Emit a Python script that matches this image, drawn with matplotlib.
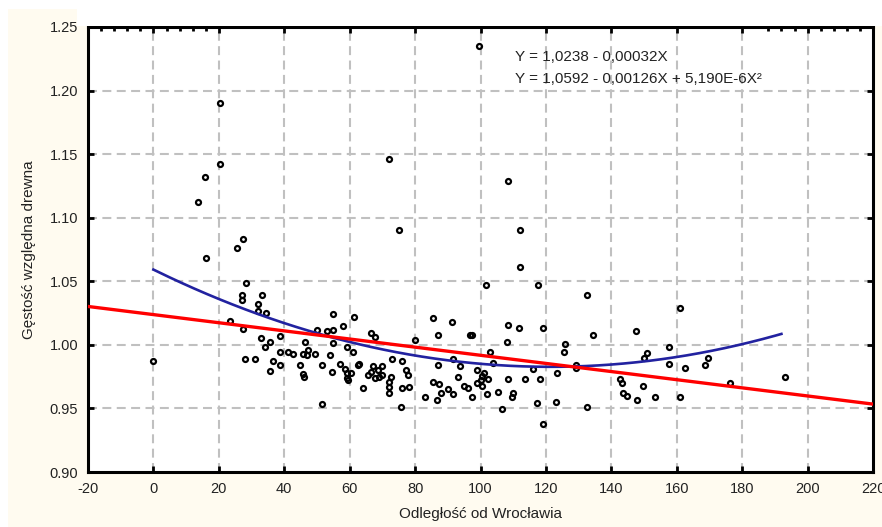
import numpy as np
import matplotlib
matplotlib.use("Agg")
import matplotlib.pyplot as plt
from matplotlib.patches import Rectangle

# ---------------- data ----------------
dist = [99.5, 20.4, 20.4, 15.8, 13.7, 72, 75.1, 27.4, 25.5, 108.4, 112.1, 16, 28.3, 27, 27,
        33.2, 32, 32, 34.4, 23.4, 27.4, 32.9, 35.6, 38.7, 34.1, 38.7, 41.1, 42.7, 45.7, 47.3,
        47, 46.3, 50, 53, 55, 55, 58, 61.3, 55, 54, 59.1, 61, 28, 31, 0, 36.5, 38.7, 35.6,
        44.8, 46, 51.5, 54.6, 59.1, 59.1, 58.5, 64, 62.5, 66.5, 67.7, 67.2, 65.6, 66.5, 68.7,
        69.9, 67.7, 69, 72, 72, 72, 72.9, 76, 77.2, 77.8, 76, 78, 75.7, 51.5, 80, 85.5, 91.3,
        87, 96.8, 91.6, 93.7, 87, 85.5, 87.3, 90, 91.6, 83, 86.7, 93.1, 96.2, 97.4, 98.9,
        98.9,
        112.1, 101.7, 117.6, 132.5, 161, 108.4, 111.8, 119.1, 97.4, 108.1, 125.8, 134.4,
        147.5, 157.6, 102.9, 125.5, 150.9, 150, 169.6, 103.8, 129.2, 157.6, 168.7, 116,
        123.4, 129.2, 162.5, 100.5, 102.3, 108.4, 113.6, 118.2, 142.6, 176.3, 193.1, 100.5,
        143.3, 149.7, 102, 105.3, 110, 109.6, 143.6, 144.8, 147.9, 153.3, 161, 117.3, 123.1,
        106.6, 132.5, 119.1,
        49.5, 57, 60.5, 63, 70, 100, 101, 45.8, 59.5, 72.5, 88, 95]
value = [1.235, 1.190, 1.142, 1.132, 1.112, 1.146, 1.090, 1.083, 1.076, 1.129, 1.090, 1.068,
         1.049, 1.039, 1.035, 1.039, 1.032, 1.027, 1.025, 1.019, 1.0125, 1.0055, 1.002, 1.007,
         0.998, 0.994, 0.994, 0.993, 0.993, 0.996, 0.992, 1.002, 1.012, 1.011, 1.012, 1.024,
         1.015, 1.022, 1.0015, 0.992, 0.998, 0.994, 0.989, 0.989, 0.987, 0.987, 0.984, 0.9795,
         0.984, 0.975, 0.984, 0.979, 0.978, 0.974, 0.981, 0.966, 0.984, 1.009, 1.006, 0.983,
         0.976, 0.979, 0.980, 0.976, 0.974, 0.975, 0.971, 0.967, 0.962, 0.989, 0.987, 0.980,
         0.976, 0.966, 0.967, 0.951, 0.9535, 1.004, 1.021, 1.018, 1.008, 1.008, 0.989, 0.983,
         0.984, 0.971, 0.969, 0.965, 0.961, 0.959, 0.957, 0.975, 0.966, 0.959, 0.970, 0.980,
         1.061, 1.047, 1.047, 1.039, 1.029, 1.016, 1.013, 1.013, 1.008, 1.002, 1.001, 1.008,
         1.011, 0.998, 0.994, 0.994, 0.9935, 0.990, 0.990, 0.986, 0.984, 0.985, 0.984, 0.981,
         0.978, 0.982, 0.982, 0.9755, 0.973, 0.973, 0.973, 0.973, 0.973, 0.970, 0.975, 0.968,
         0.970, 0.968, 0.961, 0.963, 0.962, 0.959, 0.962, 0.960, 0.957, 0.959, 0.959, 0.954,
         0.955, 0.9496, 0.951, 0.938,
         0.993, 0.985, 0.9775, 0.985, 0.983, 0.972, 0.978, 0.977, 0.972, 0.975, 0.962, 0.968]

# regression coefficients (as printed on the chart)
lin_a, lin_b = 1.0238, -0.00032
quad_a, quad_b, quad_c = 1.0592, -0.00126, 5.19e-6

eq_linear = "Y = 1,0238 - 0,00032X"
eq_quad = "Y = 1,0592 - 0,00126X + 5,190E-6X²"

x_ticks = list(range(-20, 221, 20))
x_minor_top = [-16, -12, -8, -4, 4, 8, 12, 16, 188, 192, 196, 204, 208, 212, 216]
y_ticks = [0.90, 0.95, 1.00, 1.05, 1.10, 1.15, 1.20, 1.25]
x_label = "Odległość od Wrocławia"
y_label = "Gęstość względna drewna"

# ---------------- figure ----------------
plt.rcParams['font.family'] = ['Liberation Sans', 'DejaVu Sans']
W, H = 882, 527
fig = plt.figure(figsize=(W / 100, H / 100), dpi=100, facecolor='#FFFBF0')
# white margins of the scan
fig.patches.append(Rectangle((0, 0), 8 / W, 1, transform=fig.transFigure,
                             facecolor='white', edgecolor='none', zorder=0))
fig.patches.append(Rectangle((0, 1 - 9 / H), 1, 9 / H, transform=fig.transFigure,
                             facecolor='white', edgecolor='none', zorder=0))
fig.patches.append(Rectangle((77 / W, 1 - 26 / H), 1, 26 / H, transform=fig.transFigure,
                             facecolor='white', edgecolor='none', zorder=0))

ax = fig.add_axes([88 / W, 55 / H, (873 - 88) / W, (472 - 27) / H])
ax.set_facecolor('white')
ax.set_xlim(-20, 220)
ax.set_ylim(0.90, 1.25)

# grid
grid_kw = dict(color='#C0C0C0', lw=1.5, ls=(0, (4.3, 2.6)), zorder=1)
for gx in range(0, 201, 20):
    ax.axvline(gx, **grid_kw)
for gy in [0.95, 1.00, 1.05, 1.10, 1.15, 1.20]:
    ax.axhline(gy, **grid_kw)

# scatter
ax.plot(dist, value, ls='none', marker='o', ms=3.6, mfc='none', mec='black', mew=1.6,
        zorder=3)

# regression lines
xl = np.linspace(-20, 220, 200)
ax.plot(xl, lin_a + lin_b * xl, color='#FF0000', lw=2.4, zorder=5)
xq = np.linspace(0, 192, 200)
ax.plot(xq, quad_a + quad_b * xq + quad_c * xq ** 2, color='#2222A0', lw=1.9, zorder=4)

# equations
ax.text(0.544, 0.933, eq_linear, transform=ax.transAxes, fontsize=11, color='#222222',
        va='center', ha='left', zorder=6)
ax.text(0.544, 0.884, eq_quad, transform=ax.transAxes, fontsize=11, color='#222222',
        va='center', ha='left', zorder=6)

# axes styling
ax.set_xticks(x_ticks)
ax.set_xticklabels([str(t) for t in x_ticks])
ax.set_xticks(x_minor_top, minor=True)
ax.set_yticks(y_ticks)
ax.set_yticklabels([f"{t:.2f}" for t in y_ticks])
ax.tick_params(direction='in', length=4, width=2, top=True, right=True,
               labelsize=10.5, labelcolor='#222222', pad=7)
ax.tick_params(which='minor', direction='in', length=3, width=2, bottom=False, top=True)
for s in ax.spines.values():
    s.set_linewidth(2.2)
    s.set_color('black')

ax.set_xlabel(x_label, fontsize=11, color='#222222', labelpad=8)
ax.set_ylabel(y_label, fontsize=11, color='#222222', labelpad=10)

fig.savefig('out.png', dpi=100, facecolor=fig.get_facecolor())
